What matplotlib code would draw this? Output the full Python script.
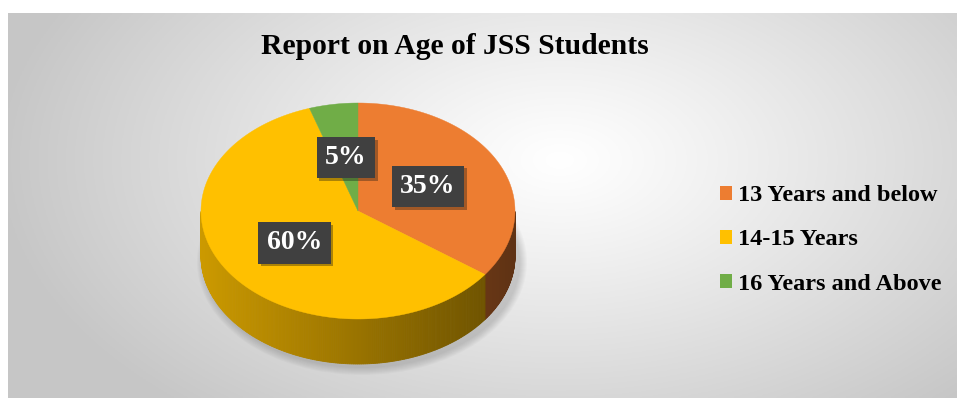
import numpy as np
import matplotlib
matplotlib.use("Agg")
import matplotlib.pyplot as plt
import matplotlib.patheffects as pe
from matplotlib.patches import Polygon, Ellipse, Patch
from matplotlib.colors import to_rgb

# data
categories = ['13 Years and below', '14-15 Years', '16 Years and Above']
values = [35, 60, 5]
labels = ['35%', '60%', '5%']
colors = ['#ED7D31', '#FFC000', '#70AD47']
title = 'Report on Age of JSS Students'

W, H = 957, 398
fig = plt.figure(figsize=(W / 100, H / 100), dpi=100)
ax = fig.add_axes([0, 0, 1, 1])
ax.set_xlim(0, W)
ax.set_ylim(H, 0)
ax.axis('off')

# chart area with radial gradient
x0, y0 = 8, 13
gx, gy = np.meshgrid(np.linspace(x0, W, 400), np.linspace(y0, H, 200))
r = np.sqrt(((gx - 560) / 560) ** 2 + ((gy - 160) / 330) ** 2)
v = 1 - 0.22 * np.clip(r, 0, 1) ** 1.1
ax.imshow(np.dstack([v, v, v]), extent=[x0, W, H, y0], aspect='auto', zorder=0)

# pie geometry
cx, cy = 358, 211
rx, ry = 157, 108
depth = 45

fr = np.array(values) / sum(values)
edges = 90 - 360 * np.concatenate([[0], np.cumsum(fr)])

# soft shadow under the pie
for k in range(8):
    ax.add_patch(Ellipse((cx + 4, cy + depth + 6), 2 * rx + 16 - 2 * k, 2 * ry + 10 - 2 * k,
                         facecolor='#000000', alpha=0.02, edgecolor='none', zorder=1))

def pt(t, dy=0):
    t = np.radians(t)
    return cx + rx * np.cos(t), cy - ry * np.sin(t) + dy

# side walls (front half only), shaded left to right
for i, c in enumerate(colors):
    a1, a2 = edges[i + 1], edges[i]
    ts = np.linspace(a1, a2, 300)
    base = np.array(to_rgb(c))
    for j in range(len(ts) - 1):
        tm = 0.5 * (ts[j] + ts[j + 1])
        if np.sin(np.radians(tm)) > 0:
            continue
        xa, ya = pt(ts[j])
        xb, yb = pt(ts[j + 1])
        f = (xa - (cx - rx)) / (2 * rx)
        shade = 0.8 - 0.4 * f
        col = np.clip(base * shade, 0, 1)
        ax.add_patch(Polygon([(xa, ya), (xb, yb), (xb, yb + depth), (xa, ya + depth)],
                             closed=True, facecolor=col, edgecolor=col, lw=0.6, zorder=2))

# top faces
for i, c in enumerate(colors):
    ts = np.linspace(edges[i], edges[i + 1], 200)
    xs, ys = pt(ts)
    poly = np.vstack([[cx, cy], np.column_stack([xs, ys])])
    ax.add_patch(Polygon(poly, closed=True, facecolor=c, edgecolor=c, lw=0.3, zorder=3))

# data labels
for i, lab in enumerate(labels):
    tm = 0.5 * (edges[i] + edges[i + 1])
    lx, ly = pt(tm)
    lx = cx + 0.5 * (lx - cx)
    ly = cy + 0.5 * (ly - cy)
    t = ax.text(lx, ly, lab, ha='center', va='center', color='white', fontsize=20,
                fontweight='bold', family='Liberation Serif', zorder=5,
                bbox=dict(boxstyle='square,pad=0.3', facecolor='#404040', edgecolor='none'))
    t.get_bbox_patch().set_path_effects([pe.SimplePatchShadow(offset=(2, -2), alpha=0.35),
                                         pe.Normal()])

# title
ax.text(455, 46, title, ha='center', va='center', fontsize=21.3, fontweight='bold',
        family='Liberation Serif', color='black', zorder=5)

# legend
handles = [Patch(facecolor=c, edgecolor='none') for c in colors]
fig.legend(handles, categories, loc='center left', bbox_to_anchor=(698 / W, 1 - 240 / H),
           frameon=False, prop={'family': 'Liberation Serif', 'weight': 'bold', 'size': 17.5},
           handlelength=0.5, handleheight=0.5, handletextpad=0.25, labelspacing=0.95)

fig.savefig('out.png', dpi=100)
